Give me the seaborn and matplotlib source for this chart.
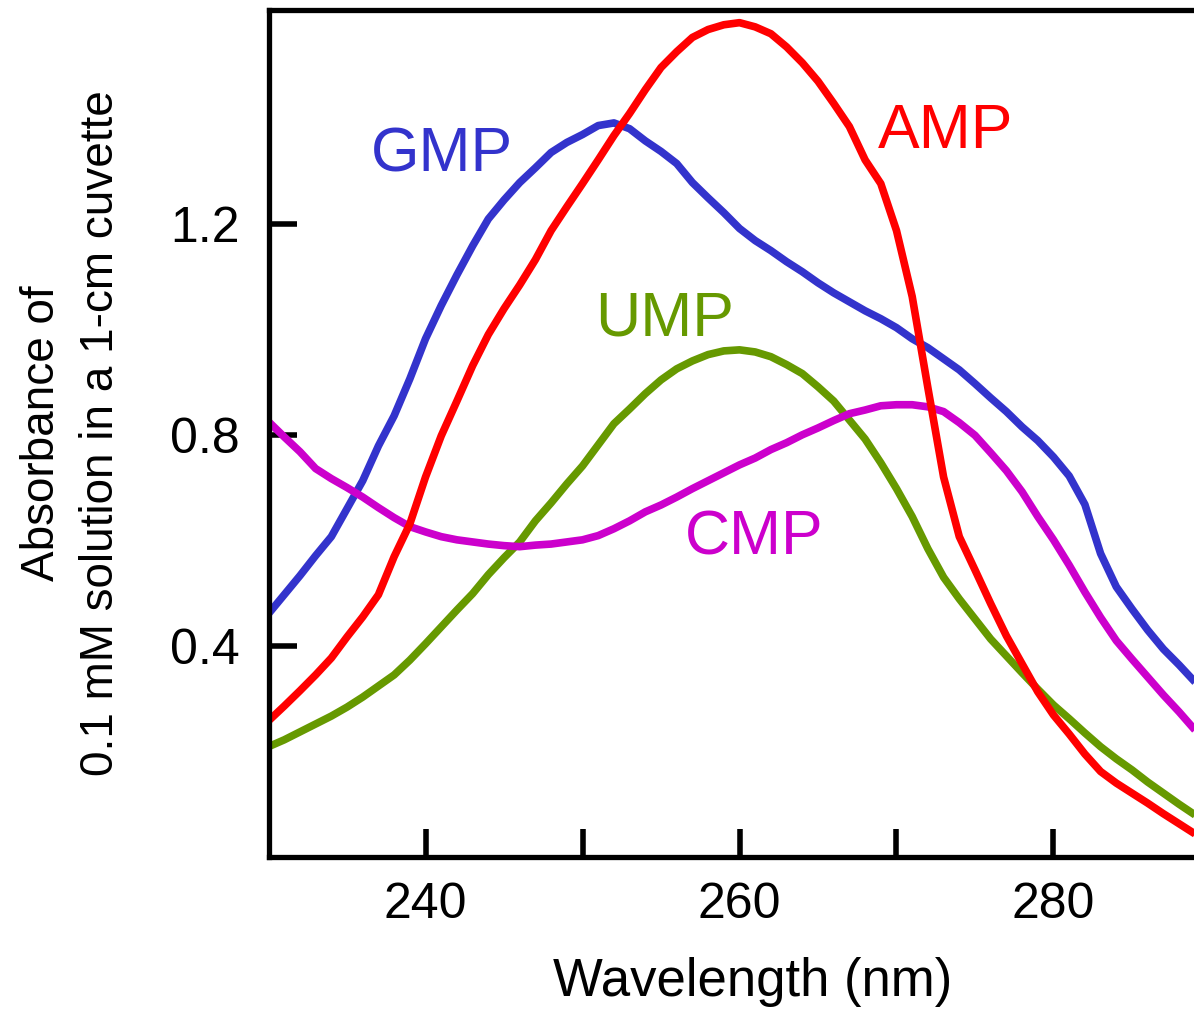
import matplotlib
matplotlib.use("Agg")
import matplotlib.pyplot as plt
import pandas as pd
import seaborn as sns

# wavelength grid (nm) and absorbance values
wavelength = list(range(230, 291))

gmp = [0.461, 0.497, 0.533, 0.571, 0.607, 0.660, 0.713, 0.779, 0.836, 0.906,
       0.982, 1.045, 1.103, 1.158, 1.209, 1.245, 1.278, 1.306, 1.335, 1.354,
       1.369, 1.386, 1.391, 1.380, 1.357, 1.337, 1.314, 1.278, 1.249, 1.221,
       1.191, 1.168, 1.149, 1.128, 1.109, 1.088, 1.069, 1.052, 1.035, 1.020,
       1.003, 0.982, 0.965, 0.944, 0.923, 0.897, 0.870, 0.844, 0.815, 0.789,
       0.758, 0.722, 0.668, 0.575, 0.512, 0.470, 0.430, 0.394, 0.364, 0.332,
       0.305]

amp = [0.258, 0.286, 0.315, 0.345, 0.377, 0.417, 0.455, 0.497, 0.569, 0.631,
       0.720, 0.798, 0.864, 0.931, 0.990, 1.039, 1.084, 1.132, 1.187, 1.232,
       1.276, 1.321, 1.367, 1.409, 1.454, 1.496, 1.526, 1.553, 1.568, 1.577,
       1.581, 1.573, 1.560, 1.535, 1.505, 1.470, 1.428, 1.384, 1.321, 1.276,
       1.187, 1.062, 0.889, 0.720, 0.607, 0.544, 0.480, 0.419, 0.366, 0.313,
       0.269, 0.233, 0.195, 0.162, 0.140, 0.121, 0.102, 0.082, 0.063, 0.044,
       0.025]

ump = [0.209, 0.222, 0.237, 0.252, 0.267, 0.284, 0.303, 0.324, 0.345, 0.373,
       0.404, 0.436, 0.468, 0.499, 0.535, 0.567, 0.597, 0.637, 0.671, 0.707,
       0.741, 0.781, 0.821, 0.849, 0.878, 0.904, 0.925, 0.940, 0.952, 0.959,
       0.961, 0.957, 0.948, 0.933, 0.916, 0.891, 0.864, 0.828, 0.792, 0.747,
       0.698, 0.645, 0.584, 0.530, 0.489, 0.451, 0.413, 0.381, 0.349, 0.318,
       0.288, 0.262, 0.235, 0.209, 0.186, 0.165, 0.142, 0.121, 0.100, 0.080,
       0.061]

cmp_ = [0.825, 0.796, 0.768, 0.736, 0.717, 0.700, 0.682, 0.662, 0.643, 0.626,
        0.616, 0.607, 0.601, 0.597, 0.593, 0.590, 0.588, 0.591, 0.593, 0.597,
        0.601, 0.609, 0.622, 0.637, 0.654, 0.667, 0.682, 0.698, 0.713, 0.728,
        0.743, 0.756, 0.772, 0.785, 0.800, 0.813, 0.827, 0.840, 0.847, 0.855,
        0.857, 0.857, 0.853, 0.844, 0.823, 0.799, 0.766, 0.732, 0.692, 0.645,
        0.601, 0.553, 0.502, 0.454, 0.410, 0.375, 0.341, 0.307, 0.275, 0.241,
        0.207]

compounds = ["GMP", "UMP", "CMP", "AMP"]  # drawing order, AMP on top
colors = {"GMP": "#3333CC", "AMP": "#FF0000", "UMP": "#669900", "CMP": "#CC00CC"}

df = pd.DataFrame({"wavelength": wavelength, "GMP": gmp, "AMP": amp,
                   "UMP": ump, "CMP": cmp_})
long = df.melt(id_vars="wavelength", var_name="compound", value_name="absorbance")

sns.set_style("ticks")
plt.rcParams["font.family"] = ["Liberation Sans", "DejaVu Sans"]
plt.rcParams["text.color"] = "black"
plt.rcParams["axes.labelcolor"] = "black"
plt.rcParams["xtick.color"] = "black"
plt.rcParams["ytick.color"] = "black"

fig = plt.figure(figsize=(11.94, 10.10), dpi=100)
ax = fig.add_axes([0.2249, 0.1515, 0.7889, 0.8386])

sns.lineplot(data=long, x="wavelength", y="absorbance", hue="compound",
             hue_order=compounds, palette=colors, linewidth=5.5,
             estimator=None, legend=False, ax=ax,
             solid_joinstyle="round", solid_capstyle="butt")

ax.set_xlim(230, 290)
ax.set_ylim(0, 1.605)
ax.set_xticks([240, 250, 260, 270, 280])
ax.set_xticklabels(["240", "", "260", "", "280"])
ax.set_yticks([0.4, 0.8, 1.2])
ax.set_yticklabels(["0.4", "0.8", "1.2"])
ax.tick_params(direction="in", length=20, width=4, labelsize=36,
               colors="black", labelcolor="black")
ax.tick_params(axis="x", pad=18)
ax.tick_params(axis="y", pad=21)
for s in ax.spines.values():
    s.set_linewidth(3.8)
    s.set_color("black")

ax.set_xlabel("Wavelength (nm)", fontsize=38, labelpad=21, color="black")
ax.xaxis.label.set_x(0.5143)
ax.set_ylabel("Absorbance of\n0.1 mM solution in a 1-cm cuvette",
              fontsize=33, linespacing=1.45, color="black")
ax.yaxis.set_label_coords(-0.1545, 0.5)

# curve labels
label_pos = {"GMP": (241.05, 1.299), "AMP": (273.15, 1.344),
             "UMP": (255.25, 0.988), "CMP": (260.92, 0.573)}
for name, (lx, ly) in label_pos.items():
    ax.text(lx, ly, name, color=colors[name], fontsize=45,
            ha="center", va="baseline")

fig.savefig("out.png", dpi=100)
